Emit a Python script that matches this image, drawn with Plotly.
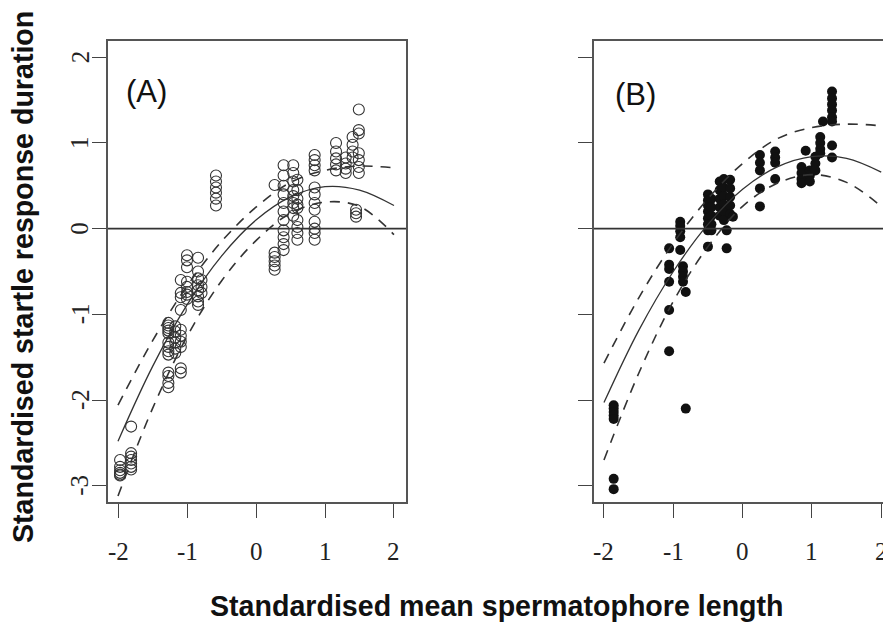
import plotly.graph_objects as go

# Panel A: x position of each column of points, and the y values in that column
a_cols = [-1.97, -1.81, -1.27, -1.17, -1.09, -1.0, -0.84, -0.79, -0.58,
          0.27, 0.40, 0.54, 0.60, 0.85, 1.16, 1.30, 1.40, 1.49, 1.45]
a_vals = [
    [-2.70, -2.78, -2.82, -2.85, -2.87, -2.88],
    [-2.31, -2.62, -2.66, -2.70, -2.74, -2.78, -2.81],
    [-1.10, -1.13, -1.16, -1.19, -1.22, -1.33, -1.38, -1.43, -1.47, -1.68, -1.72, -1.80, -1.85],
    [-1.14, -1.20, -1.27, -1.33, -1.40, -1.45],
    [-0.60, -0.75, -0.80, -0.95, -1.18, -1.25, -1.32, -1.38, -1.63, -1.68],
    [-0.31, -0.37, -0.45, -0.62, -0.68, -0.74, -0.77, -0.82],
    [-0.34, -0.50, -0.58, -0.66, -0.72, -0.79, -0.85, -0.89],
    [-0.60, -0.68, -0.75],
    [0.27, 0.35, 0.42, 0.48, 0.55, 0.62],
    [0.51, -0.28, -0.33, -0.38, -0.43, -0.48],
    [0.74, 0.62, 0.50, 0.40, 0.30, 0.20, 0.10, -0.02, -0.10, -0.18, -0.25],
    [0.74, 0.65, 0.55, 0.45, 0.38, 0.30, 0.24, 0.15],
    [0.57, 0.45, 0.35, 0.28, 0.24, 0.10, 0.02, -0.05, -0.13],
    [0.86, 0.80, 0.74, 0.68, 0.48, 0.40, 0.30, 0.22, 0.08, 0.0, -0.05, -0.13],
    [1.0, 0.90, 0.82, 0.75, 0.68],
    [0.83, 0.76, 0.70, 0.65],
    [1.07, 0.98, 0.90, 0.83],
    [1.39, 1.15, 1.11, 0.88, 0.80, 0.72, 0.65],
    [0.22, 0.18, 0.14],
]

# Panel B
b_cols = [-1.86, -1.06, -0.90, -0.86, -0.82, -0.50, -0.45, -0.33, -0.27, -0.23,
          -0.18, -0.14, 0.25, 0.47, 0.85, 0.91, 0.97, 1.05, 1.12, 1.16, 1.29]
b_vals = [
    [-2.06, -2.10, -2.14, -2.18, -2.22, -2.92, -3.04],
    [-0.23, -0.42, -0.47, -0.62, -0.95, -1.43],
    [0.08, 0.03, -0.03, -0.10, -0.25],
    [-0.44, -0.50, -0.56, -0.62],
    [-0.74, -2.10],
    [0.40, 0.33, 0.27, 0.20, 0.12, 0.05, -0.02, -0.21],
    [0.35, 0.25, 0.15, 0.05, -0.02],
    [0.55, 0.45, 0.35, 0.25, 0.15],
    [0.58, 0.48, 0.38, 0.28, 0.20, 0.10],
    [-0.02, -0.23],
    [0.57, 0.47, 0.37, 0.27, 0.17],
    [0.14],
    [0.86, 0.77, 0.68, 0.47, 0.26],
    [0.90, 0.83, 0.77, 0.58],
    [0.72, 0.65, 0.58, 0.53],
    [0.91],
    [0.68, 0.62, 0.55],
    [0.84, 0.76, 0.68],
    [1.07, 1.00, 0.93, 0.88],
    [1.25],
    [1.60, 1.52, 1.45, 1.38, 1.30, 1.25, 0.97, 0.83],
]

curve_x = [-2, -1.5, -1, -0.5, 0, 0.5, 1, 1.5, 2]
a_fit = [-2.48, -1.61, -0.89, -0.32, 0.10, 0.37, 0.49, 0.45, 0.27]
a_upper = [-2.06, -1.31, -0.67, -0.15, 0.25, 0.54, 0.68, 0.73, 0.71]
a_lower = [-3.12, -2.10, -1.26, -0.61, -0.14, 0.18, 0.31, 0.26, -0.07]
b_fit = [-2.03, -1.19, -0.50, 0.05, 0.46, 0.72, 0.84, 0.82, 0.66]
b_upper = [-1.57, -0.81, -0.17, 0.35, 0.76, 1.05, 1.18, 1.22, 1.20]
b_lower = [-2.70, -1.69, -0.85, -0.21, 0.26, 0.53, 0.63, 0.54, 0.26]

x_ticks = [-2, -1, 0, 1, 2]
y_ticks = [-3, -2, -1, 0, 1, 2]


def expand(cols, vals):
    xs, ys = [], []
    for c, v in zip(cols, vals):
        xs += [c] * len(v)
        ys += v
    return xs, ys


ax, ay = expand(a_cols, a_vals)
bx, by = expand(b_cols, b_vals)

# the page body adds an 8px margin, so the figure is 8px smaller than the window
OFF = 8
W, H = 891 - OFF, 625 - OFF


def px_x(v):
    return (v - OFF) / W


def px_y(v):
    return 1 - (v - OFF) / H


fig = go.Figure()

fig.add_trace(go.Scatter(x=ax, y=ay, mode="markers", xaxis="x", yaxis="y",
                         marker=dict(symbol="circle-open", size=11, color="#333",
                                     line=dict(width=1.1, color="#333"))))
fig.add_trace(go.Scatter(x=bx, y=by, mode="markers", xaxis="x2", yaxis="y2",
                         marker=dict(symbol="circle", size=10, color="#111",
                                     line=dict(width=0))))

for xa, ya, fit, up, lo in [("x", "y", a_fit, a_upper, a_lower),
                            ("x2", "y2", b_fit, b_upper, b_lower)]:
    fig.add_trace(go.Scatter(x=curve_x, y=fit, mode="lines", xaxis=xa, yaxis=ya,
                             line=dict(color="#333", width=1.3, shape="spline")))
    for band in (up, lo):
        fig.add_trace(go.Scatter(x=curve_x, y=band, mode="lines", xaxis=xa, yaxis=ya,
                                 line=dict(color="#333", width=1.6, dash="10px,8px",
                                           shape="spline")))

common = dict(showgrid=False, zeroline=False, ticks="outside", ticklen=14,
              tickwidth=1.3, tickcolor="#444", showline=True, linecolor="#555",
              linewidth=1.6, showticklabels=False, automargin=False)
ydom = [px_y(502), px_y(41)]

fig.update_layout(
    width=W, height=H, margin=dict(l=0, r=0, t=0, b=0),
    paper_bgcolor="white", plot_bgcolor="white", showlegend=False,
    xaxis=dict(domain=[px_x(108), px_x(406)], range=[-2.145, 2.174], tickvals=x_ticks,
               mirror=True, anchor="y", **common),
    yaxis=dict(domain=ydom, range=[-3.19, 2.19], tickvals=y_ticks,
               mirror=True, anchor="x", **common),
    xaxis2=dict(domain=[px_x(594), 1.0], range=[-2.144, 2.141], tickvals=x_ticks,
                mirror=True, anchor="y2", **common),
    yaxis2=dict(domain=ydom, range=[-3.19, 2.19], tickvals=y_ticks,
                mirror=False, anchor="x2", **common),
)

# horizontal reference line at zero in both panels
for xr, yr in [("x domain", "y"), ("x2 domain", "y2")]:
    fig.add_shape(type="line", xref=xr, yref=yr, x0=0, x1=1, y0=0, y1=0,
                  line=dict(color="#333", width=1.6))

# tick labels (R style: hyphen minus, y labels turned 90 degrees)
tick_font = dict(family="Liberation Serif", size=25, color="#222")
for xr in ("x", "x2"):
    for t in x_ticks:
        fig.add_annotation(x=t, y=px_y(551), xref=xr, yref="paper", text=str(t),
                           showarrow=False, font=tick_font,
                           xanchor="center", yanchor="middle")
for t in y_ticks:
    fig.add_annotation(x=px_x(80), y=t, xref="paper", yref="y", text=str(t),
                       textangle=-90, showarrow=False, font=tick_font,
                       xanchor="center", yanchor="middle")

label_font = dict(family="Liberation Sans", size=31, color="#111")
fig.add_annotation(x=-1.59, y=1.60, xref="x", yref="y", text="(A)",
                   showarrow=False, font=label_font, xanchor="center", yanchor="middle")
fig.add_annotation(x=-1.55, y=1.56, xref="x2", yref="y2", text="(B)",
                   showarrow=False, font=label_font, xanchor="center", yanchor="middle")

title_font = dict(family="Liberation Sans", size=28.6, color="#111")
fig.add_annotation(x=px_x(497), y=px_y(606), xref="paper", yref="paper",
                   text="<b>Standardised mean spermatophore length</b>",
                   showarrow=False, font=title_font, xanchor="center", yanchor="middle")
fig.add_annotation(x=px_x(23), y=px_y(277), xref="paper", yref="paper",
                   text="<b>Standardised startle response duration</b>",
                   textangle=-90, showarrow=False, font=title_font,
                   xanchor="center", yanchor="middle")

fig.write_html("out.html")
